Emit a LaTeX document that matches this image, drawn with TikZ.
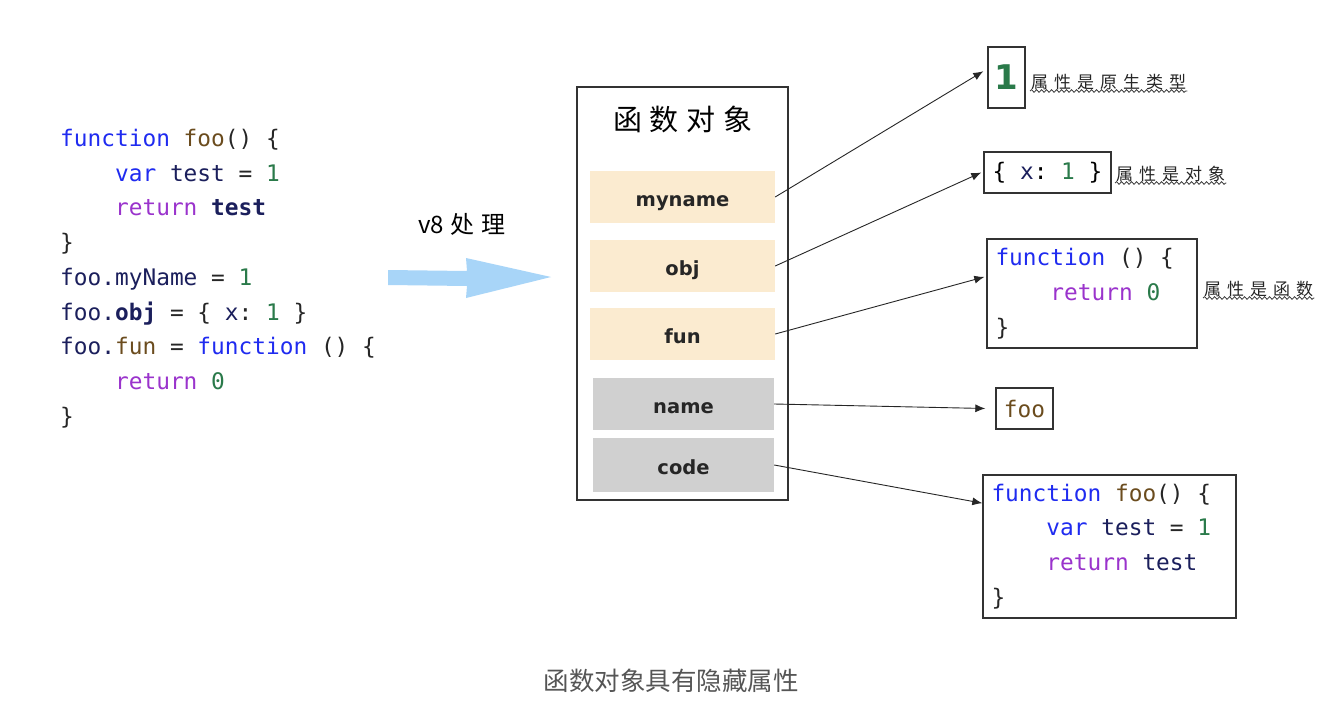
\documentclass[tikz,border=0pt]{standalone}
\usepackage{fontspec}
\setmainfont{DejaVu Sans}
\setmonofont{DejaVu Sans Mono}
\newfontfamily\cjk{Noto Sans CJK SC}
\usetikzlibrary{arrows.meta,decorations.pathmorphing,calc}
\definecolor{kwc}{HTML}{1F2BF0}
\definecolor{fnc}{HTML}{6B4C1E}
\definecolor{numc}{HTML}{2A7A4A}
\definecolor{retc}{HTML}{9A33CC}
\definecolor{idc}{HTML}{1B1F5C}
\definecolor{slotA}{HTML}{FBEBD0}
\definecolor{slotB}{HTML}{D0D0D0}
\definecolor{arrowblue}{HTML}{A8D5F8}
\definecolor{capc}{HTML}{555555}
\newcommand\ckw[1]{\textcolor{kwc}{#1}}
\newcommand\cfn[1]{\textcolor{fnc}{#1}}
\newcommand\cnum[1]{\textcolor{numc}{#1}}
\newcommand\cret[1]{\textcolor{retc}{#1}}
\newcommand\cid[1]{\textcolor{idc}{#1}}
\newcommand\ind{\phantom{0000}}
\newcommand\gap{\kern6pt}
\tikzset{
  codetext/.style={inner sep=0pt, align=left, text=black!85,
    font={\ttfamily\fontsize{22.8}{34.7}\selectfont}},
  slot/.style={minimum width=185pt, minimum height=52pt, inner sep=0pt,
    text height=18pt, text depth=0pt,
    font={\bfseries\fontsize{19.5}{22}\selectfont}, text=black!85},
  slotyellow/.style={slot, fill=slotA},
  slotgray/.style={slot, fill=slotB},
  target/.style={draw=black!80, line width=1.4pt, inner sep=0pt},
  handlabel/.style={inner sep=1pt, font={\cjk\fontsize{17}{20}\selectfont}, text=black!85},
  conn/.style={line width=0.9pt, black!85, -{Latex[length=10pt,width=8pt]}},
  wavy/.style={decorate, decoration={snake, amplitude=1.3pt, segment length=5pt}, line width=0.8pt, black!80}
}
\begin{document}
\begin{tikzpicture}[x=1pt,y=-1pt]
\useasboundingbox (0,0) rectangle (1340,706);
\fill[white] (0,0) rectangle (1340,706);

% source code
\node[codetext, anchor=west] (src) at (60,278.5) {%
\ckw{function} \cfn{foo}() \{\\
\ind\ckw{var} \cid{test} = \cnum{1}\\
\ind\cret{return} \cid{\textbf{test}}\\
\}\\
\cid{foo.myName} = \cnum{1}\\
\cid{foo.\textbf{obj}} = \{ \cid{x}: \cnum{1} \}\\
\cid{foo.}\cfn{fun} = \ckw{function} () \{\\
\ind\cret{return} \cnum{0}\\
\}};

% v8 arrow
\node[font={\cjk\fontsize{24}{26}\selectfont}, inner sep=0pt] (v8) at (462,224) {v8\kern7pt 处\kern7pt 理};
\fill[arrowblue] (388,270) -- (467,271) -- (466,258) -- (551,277) -- (466,298) -- (467,286) -- (388,285) -- cycle;

% function object
\node[draw=black!80, line width=1.2pt, minimum width=211pt, minimum height=413pt, inner sep=0pt] (fobj) at (682.5,293.5) {};
\node[font={\cjk\fontsize{29}{30}\selectfont}, inner sep=0pt] (title) at (683,119) {函\kern8pt 数\kern8pt 对\kern8pt 象};
\node[slotyellow] (myname) at (682.5,197) {myname};
\node[slotyellow] (obj) at (682.5,266) {obj};
\node[slotyellow] (fun) at (682.5,334) {fun};
\node[slotgray, minimum width=181pt] (nm) at (683.5,404) {name};
\node[slotgray, minimum width=181pt, minimum height=54pt] (cd) at (683.5,465) {code};

% targets
\node[target, minimum width=37pt, minimum height=61pt, font={\bfseries\fontsize{34}{36}\selectfont}, text=numc] (t1) at (1006.5,77.5) {1};
\node[target, minimum width=127pt, minimum height=41pt, font={\ttfamily\fontsize{22.8}{26}\selectfont}] (t2) at (1047.5,172.5) {\{ \cid{x}: \cnum{1} \}};
\node[target, minimum width=210pt, minimum height=109pt] (t3) at (1092,293.5) {};
\node[codetext, anchor=west] (t3code) at ($(t3.west)+(9,0)$) {%
\ckw{function} () \{\\
\ind\cret{return} \cnum{0}\\
\}};
\node[target, minimum width=57pt, minimum height=41pt, font={\ttfamily\fontsize{22.8}{26}\selectfont}, text=fnc] (t4) at (1024.5,408.5) {foo};
\node[target, minimum width=253pt, minimum height=143pt] (t5) at (1109.5,546.5) {};
\node[codetext, anchor=west] (t5code) at ($(t5.west)+(9,0)$) {%
\ckw{function} \cfn{foo}() \{\\
\ind\ckw{var} \cid{test} = \cnum{1}\\
\ind\cret{return} \cid{test}\\
\}};

% labels
\node[handlabel, anchor=south west] (l1) at (1030,91) {属\gap 性\gap 是\gap 原\gap 生\gap 类\gap 型};
\node[handlabel, anchor=south west] (l2) at (1115,183) {属\gap 性\gap 是\gap 对\gap 象};
\node[handlabel, anchor=south west] (l3) at (1203,298) {属\gap 性\gap 是\gap 函\gap 数};
\draw[wavy] (l1.south west) -- (l1.south east);
\draw[wavy] (l2.south west) -- (l2.south east);
\draw[wavy] (l3.south west) -- (l3.south east);

% connectors
\draw[conn] (myname.east) -- ($(t1.north west)!0.4!(t1.south west)+(-4,0)$);
\draw[conn] (obj.east) -- ($(t2.west)+(-2,0)$);
\draw[conn] (fun.east) -- ($(t3.north west)!0.35!(t3.south west)+(-2,0)$);
\draw[conn] (nm.east) -- ($(t4.west)+(-10,0)$);
\draw[conn] (cd.east) -- ($(t5.north west)!0.2!(t5.south west)$);

% caption
\node[font={\cjk\fontsize{25.5}{28}\selectfont}, text=capc, inner sep=0pt] (cap) at (671,681) {函数对象具有隐藏属性};
\end{tikzpicture}
\end{document}
